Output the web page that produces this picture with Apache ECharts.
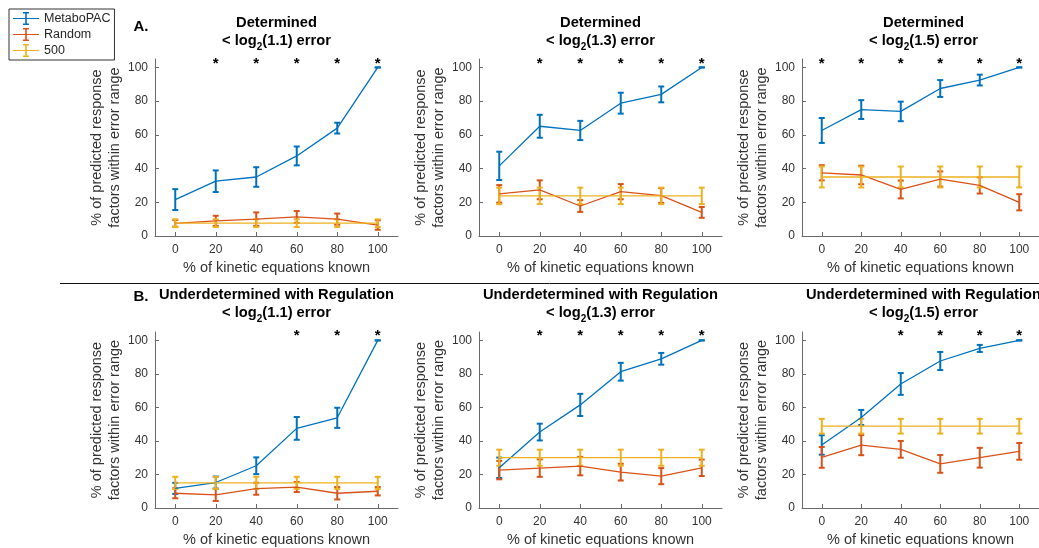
<!DOCTYPE html>
<html>
<head>
<meta charset="utf-8">
<script src="https://cdn.jsdelivr.net/npm/echarts@6/dist/echarts.min.js"></script>
<style>
  html, body { margin: 0; padding: 0; background: #fff; }
  #chart { width: 1039px; height: 548px; }
</style>
</head>
<body>
<div id="chart"></div>
<script>
// ---- data ----
const xValues = [0, 20, 40, 60, 80, 100];
const xTicks = [0, 20, 40, 60, 80, 100];
const yTicks = [0, 20, 40, 60, 80, 100];
const seriesNames = ['MetaboPAC', 'Random', '500'];
const rowTitles = ['Determined', 'Underdetermined with Regulation'];
const errorThresholds = ['1.1', '1.3', '1.5'];
const rowTags = ['A.', 'B.'];
const xAxisTitle = '% of kinetic equations known';
const yAxisTitle = '% of predicted response\nfactors within error range';

// panel order: A (1.1, 1.3, 1.5), then B (1.1, 1.3, 1.5)
const metaboMean = [
  [21.6, 32.5, 35.0, 47.5, 64.0, 100],
  [41.6, 65.1, 62.6, 78.8, 84.0, 100],
  [62.6, 75.0, 73.9, 87.5, 92.5, 100],
  [11.7, 15.2, 25.2, 47.5, 53.8, 100],
  [24.0, 45.3, 61.5, 81.3, 89.0, 100],
  [37.6, 54.0, 74.0, 87.7, 95.2, 100]
];
const metaboErr = [
  [6.2, 6.4, 5.8, 5.6, 3.2, 0],
  [8.4, 6.8, 5.7, 6.2, 4.7, 0],
  [7.4, 5.6, 5.8, 5.0, 3.2, 0],
  [3.3, 3.6, 5.0, 6.8, 6.0, 0],
  [6.1, 5.0, 6.6, 5.3, 3.5, 0],
  [5.8, 4.5, 6.5, 5.4, 2.1, 0]
];
const randomMean = [
  [7.5, 9.0, 10.0, 11.3, 10.0, 6.5],
  [25.0, 27.4, 17.8, 26.3, 24.0, 14.0],
  [37.5, 36.2, 27.6, 33.8, 30.0, 20.0],
  [8.8, 7.8, 11.5, 12.5, 8.8, 10.0],
  [22.6, 23.8, 25.0, 21.4, 19.0, 24.0],
  [30.2, 37.5, 35.0, 26.3, 30.0, 33.8]
];
const randomErr = [
  [2.0, 3.0, 4.0, 3.5, 3.3, 2.8],
  [5.2, 5.6, 3.5, 4.5, 4.4, 3.2],
  [4.5, 5.5, 5.3, 4.5, 4.8, 4.8],
  [3.0, 3.6, 3.6, 3.0, 3.7, 2.5],
  [5.5, 5.2, 5.5, 5.0, 4.8, 4.9],
  [6.2, 6.0, 5.0, 5.3, 5.9, 5.0]
];
const sample500Mean = [
  [7.6, 7.6, 7.6, 7.6, 7.6, 7.6],
  [23.8, 23.8, 23.8, 23.8, 23.8, 23.8],
  [35.0, 35.0, 35.0, 35.0, 35.0, 35.0],
  [15.0, 15.0, 15.0, 15.0, 15.0, 15.0],
  [30.0, 30.0, 30.0, 30.0, 30.0, 30.0],
  [48.8, 48.8, 48.8, 48.8, 48.8, 48.8]
];
const sample500Err = [
  [2.3, 2.3, 2.3, 2.3, 2.3, 2.3],
  [4.9, 4.9, 4.9, 4.9, 4.9, 4.9],
  [6.2, 6.2, 6.2, 6.2, 6.2, 6.2],
  [3.6, 3.6, 3.6, 3.6, 3.6, 3.6],
  [4.8, 4.8, 4.8, 4.8, 4.8, 4.8],
  [4.4, 4.4, 4.4, 4.4, 4.4, 4.4]
];
// x positions marked as significant
const significant = [
  [20, 40, 60, 80, 100],
  [20, 40, 60, 80, 100],
  [0, 20, 40, 60, 80, 100],
  [60, 80, 100],
  [20, 40, 60, 80, 100],
  [40, 60, 80, 100]
];

// ---- style / layout ----
const FONT = '"Liberation Sans", Arial, Helvetica, sans-serif';
const colors = ['#0072BD', '#D95319', '#EDB120'];
const means = [metaboMean, randomMean, sample500Mean];
const errs = [metaboErr, randomErr, sample500Err];
const gridLefts = [155, 479, 802];
const gridTops = [59, 332];
const gridW = 243, gridH = 177;
const starLevel = 103;
const axisColor = '#6a6a6a';
const labelColor = '#333';

const grids = [], xAxes = [], yAxes = [], series = [], titles = [];

for (let p = 0; p < 6; p++) {
  const row = Math.floor(p / 3), col = p % 3;
  grids.push({ left: gridLefts[col], top: gridTops[row], width: gridW, height: gridH, containLabel: false });
  xAxes.push({
    type: 'value', gridIndex: p, min: -10, max: 110,
    name: xAxisTitle, nameLocation: 'middle', nameGap: 24,
    nameTextStyle: { fontSize: 14.5, color: labelColor, fontFamily: FONT },
    axisLine: { show: true, onZero: false, lineStyle: { color: axisColor, width: 1 } },
    axisTick: { show: true, inside: true, length: 4, customValues: xTicks, lineStyle: { color: axisColor } },
    axisLabel: { customValues: xTicks, margin: 8, fontSize: 12, color: labelColor, fontFamily: FONT },
    splitLine: { show: false }
  });
  yAxes.push({
    type: 'value', gridIndex: p, min: 0, max: 105,
    name: yAxisTitle, nameLocation: 'middle', nameGap: 30, nameRotate: 90,
    nameTextStyle: { fontSize: 14.5, color: labelColor, fontFamily: FONT, lineHeight: 18, align: 'center' },
    axisLine: { show: true, onZero: false, lineStyle: { color: axisColor, width: 1 } },
    axisTick: { show: true, inside: true, length: 4, customValues: yTicks, lineStyle: { color: axisColor } },
    axisLabel: { customValues: yTicks, margin: 7, fontSize: 12, color: labelColor, fontFamily: FONT },
    splitLine: { show: false }
  });

  for (let s = 0; s < 3; s++) {
    const color = colors[s];
    const mean = means[s][p], err = errs[s][p];
    series.push({
      type: 'line', name: seriesNames[s], xAxisIndex: p, yAxisIndex: p,
      data: xValues.map((x, i) => [x, mean[i]]),
      symbol: 'none', silent: true,
      itemStyle: { color },
      lineStyle: { color, width: 1.3 }
    });
    series.push({
      type: 'custom', name: seriesNames[s], xAxisIndex: p, yAxisIndex: p,
      data: xValues.map((x, i) => [x, mean[i], err[i]]),
      encode: { x: 0, y: 1 }, silent: true,
      itemStyle: { color },
      renderItem: (params, api) => {
        const x = api.value(0), m = api.value(1), e = api.value(2);
        const top = api.coord([x, m + e]);
        const bot = api.coord([x, m - e]);
        const hw = 3;
        const style = { stroke: color, lineWidth: 2, fill: null };
        return {
          type: 'group',
          children: [
            { type: 'line', shape: { x1: top[0], y1: top[1], x2: bot[0], y2: bot[1] }, style },
            { type: 'line', shape: { x1: top[0] - hw, y1: top[1], x2: top[0] + hw, y2: top[1] }, style },
            { type: 'line', shape: { x1: bot[0] - hw, y1: bot[1], x2: bot[0] + hw, y2: bot[1] }, style }
          ]
        };
      }
    });
  }

  // significance asterisks
  series.push({
    type: 'custom', xAxisIndex: p, yAxisIndex: p, silent: true,
    data: significant[p].map(x => [x, starLevel]),
    encode: { x: 0, y: 1 },
    renderItem: (params, api) => {
      const pt = api.coord([api.value(0), api.value(1)]);
      return {
        type: 'text', x: pt[0], y: pt[1] + 1,
        style: { text: '*', fontSize: 15, fontWeight: 'bold', fontFamily: FONT, fill: '#000', align: 'center', verticalAlign: 'middle' }
      };
    }
  });

  titles.push({
    left: gridLefts[col] + gridW / 2, top: row === 0 ? 14 : 286,
    textAlign: 'center', padding: 0,
    text: '{b|' + rowTitles[row] + '}\n{b|< log}{s|2}{b|(' + errorThresholds[col] + ') error}',
    textStyle: {
      rich: {
        b: { fontSize: 14.7, fontWeight: 'bold', color: '#000', lineHeight: 18, fontFamily: FONT },
        s: { fontSize: 10, fontWeight: 'bold', color: '#000', lineHeight: 6, padding: [12, 0, 0, 0], fontFamily: FONT }
      }
    }
  });
}

// legend icon: horizontal line with an error bar
const errIcon = 'path://M0,5.9h26v1.2h-26z M12.2,0.5h1.6v12h-1.6z M10,0h6v1.6h-6z M10,11.4h6v1.6h-6z';

const option = {
  animation: false,
  backgroundColor: '#fff',
  title: titles,
  grid: grids,
  xAxis: xAxes,
  yAxis: yAxes,
  series,
  legend: {
    orient: 'vertical', left: 9, top: 9,
    padding: [3, 4, 3, 4], itemGap: 3, itemWidth: 26, itemHeight: 13,
    borderColor: '#333', borderWidth: 1, backgroundColor: '#fff',
    textStyle: { fontSize: 12.5, color: '#262626', fontFamily: FONT },
    selectedMode: false,
    data: seriesNames.map(n => ({ name: n, icon: errIcon }))
  },
  graphic: [
    { type: 'line', shape: { x1: 60, y1: 283.5, x2: 1039, y2: 283.5 }, style: { stroke: '#111', lineWidth: 1 } },
    { type: 'text', x: 141, y: 27, style: { text: rowTags[0], fontSize: 15, fontWeight: 'bold', fontFamily: FONT, fill: '#000', align: 'center', verticalAlign: 'middle' } },
    { type: 'text', x: 141, y: 297, style: { text: rowTags[1], fontSize: 15, fontWeight: 'bold', fontFamily: FONT, fill: '#000', align: 'center', verticalAlign: 'middle' } }
  ]
};

const chart = echarts.init(document.getElementById('chart'), null, { renderer: 'canvas' });
chart.setOption(option);
</script>
</body>
</html>
